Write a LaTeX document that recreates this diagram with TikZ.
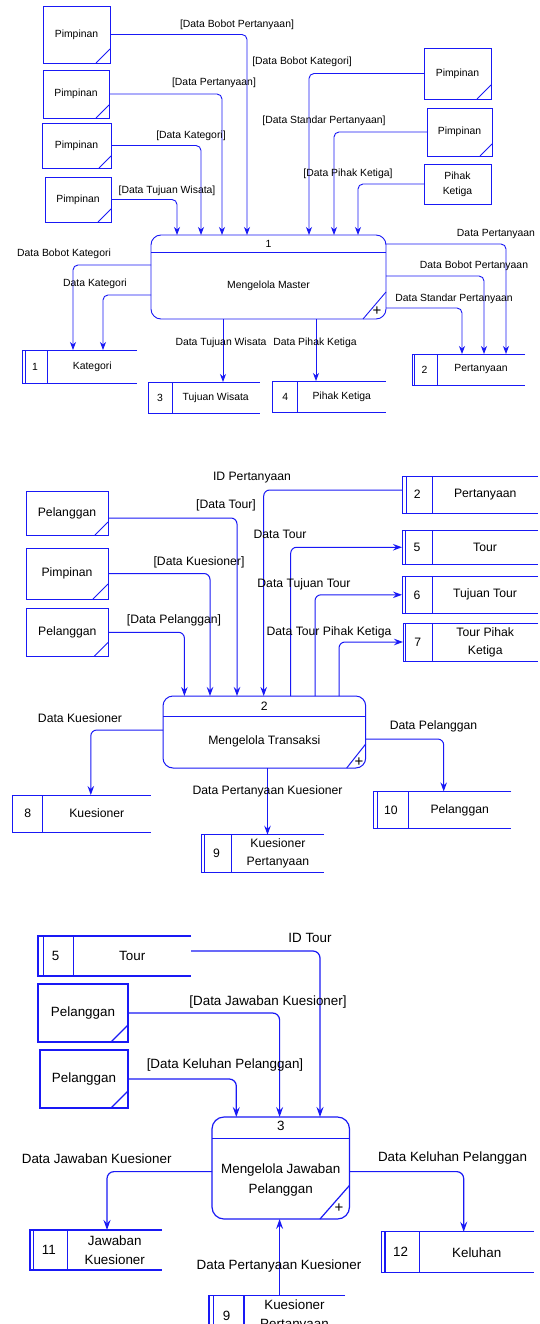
\documentclass[tikz,border=0pt]{standalone}
\usepackage{fontspec}
\setmainfont{Liberation Sans}
\usetikzlibrary{arrows.meta,calc,positioning}
\definecolor{dfdblue}{RGB}{25,25,245}

\tikzset{
  dfd/.style={draw=dfdblue, line width=0.9pt},
  flow/.style={dfd, rounded corners=5pt, -{Stealth[length=8pt,width=6pt,inset=2.5pt]}},
  entity/.style={dfd, rectangle, inner sep=0pt, outer sep=0pt, anchor=north west, align=center},
  procbox/.style={dfd, rectangle, rounded corners=10pt, inner sep=0pt, outer sep=0pt, anchor=north west},
  storebox/.style={rectangle, inner sep=0pt, outer sep=0pt, anchor=north west},
  lbl/.style={inner sep=0pt},
  plus/.style={inner sep=0pt, font=\fontsize{15}{15}\selectfont},
}

% external entity: name, x, y, width, height, corner, text
\newcommand{\dfdentity}[7]{%
  \node[entity, minimum width=#4pt, minimum height=#5pt] (#1) at (#2,#3) {#7};
  \draw[dfd] ($(#1.south east)+(-#6,0)$) -- ($(#1.south east)+(0,-#6)$);
}
% data store: name, x, y, width, height, number cell, inner line, number, text
\newcommand{\dfdstore}[9]{%
  \node[storebox, minimum width=#4pt, minimum height=#5pt] (#1) at (#2,#3) {};
  \draw[dfd] (#1.north east) -- (#1.north west) -- (#1.south west) -- (#1.south east);
  \ifdim #7pt>0pt \draw[dfd] ($(#1.north west)+(#7,0)$) -- ($(#1.south west)+(#7,0)$);\fi
  \draw[dfd] ($(#1.north west)+(#6,0)$) -- ($(#1.south west)+(#6,0)$);
  \node[lbl] (#1-n) at ($(#1.west)+({#6/2},0)$) {#8};
  \node[lbl, align=center] (#1-t) at ($(#1.west)+({(#4+#6)/2},0)$) {#9};
}

\begin{document}
\begin{tikzpicture}[x=1pt, y=-1pt]
\path[use as bounding box] (0,0) rectangle (540,1324);
\clip (0,0) rectangle (540,1324);
\fill[white] (0,0) rectangle (540,1324);

% level 1: Mengelola Master
\begin{scope}[font=\fontsize{10.4}{15}\selectfont]
\dfdentity{pim1}{43}{6}{67}{57}{14}{Pimpinan}
\dfdentity{pim2}{43}{70}{66}{48}{13}{Pimpinan}
\dfdentity{pim3}{42}{123}{69}{45}{12}{Pimpinan}
\dfdentity{pim4}{45}{177}{66}{45}{13}{Pimpinan}
\dfdentity{pim5}{424}{48}{67}{51}{14}{Pimpinan}
\dfdentity{pim6}{427}{108}{65}{48}{12}{Pimpinan}
\node[entity, minimum width=67pt, minimum height=40pt] (pk1) at (424,164) {Pihak\\Ketiga};

\node[procbox, minimum width=235pt, minimum height=84pt] (p1) at (151,235) {};
\draw[dfd] ($(p1.north west)+(0,17)$) -- ($(p1.north east)+(0,17)$);
\node[lbl] (p1-n) at ($(p1.north)+(0,8.5)$) {1};
\node[lbl] (p1-t) at ($(p1.north)+(0,50.5)$) {Mengelola Master};
\draw[dfd] ($(p1.south east)+(-23,0)$) -- ($(p1.south east)+(0,-27)$);
\node[plus] (p1-p) at ($(p1.south east)+(-9,-8)$) {+};

\dfdstore{ds1}{22.5}{350}{114.5}{33}{25}{3}{1}{Kategori}
\dfdstore{ds3}{148}{382}{111.5}{31}{24}{0}{3}{Tujuan Wisata}
\dfdstore{ds4}{272.7}{381}{113}{31}{25}{0}{4}{Pihak Ketiga}
\dfdstore{ds2}{412}{354}{113}{31}{25}{2.5}{2}{Pertanyaan}

\draw[flow] (pim1.east) -| ($(p1.north west)+(96,0)$);
\draw[flow] (pim2.east) -| ($(p1.north west)+(71,0)$);
\draw[flow] (pim3.east) -| ($(p1.north west)+(50,0)$);
\draw[flow] (pim4.east) -| ($(p1.north west)+(26,0)$);
\draw[flow] (pim5.west) -| ($(p1.north west)+(158,0)$);
\draw[flow] (pim6.west) -| ($(p1.north west)+(183,0)$);
\draw[flow] (pk1.west) -| ($(p1.north west)+(207,0)$);
\draw[flow] ($(p1.north west)+(0,30)$) -| ($(ds1.north west)+(50.5,0)$);
\draw[flow] ($(p1.north west)+(0,60)$) -| ($(ds1.north west)+(80.5,0)$);
\coordinate (o1) at ($(p1.south west)+(72,0)$);
\draw[flow] (o1) -- (o1 |- ds3.north);
\coordinate (o2) at ($(p1.south west)+(165,0)$);
\draw[flow] (o2) -- (o2 |- ds4.north);
\draw[flow] ($(p1.north east)+(0,9)$) -| ($(ds2.north west)+(94,0)$);
\draw[flow] ($(p1.north east)+(0,41)$) -| ($(ds2.north west)+(72,0)$);
\draw[flow] ($(p1.north east)+(0,73)$) -| ($(ds2.north west)+(50,0)$);

\node[lbl] (f1) at (237,25) {[Data Bobot Pertanyaan]};
\node[lbl] (f2) at (214,83) {[Data Pertanyaan]};
\node[lbl] (f3) at (191,136) {[Data Kategori]};
\node[lbl] (f4) at (167,191) {[Data Tujuan Wisata]};
\node[lbl] (f5) at (302,62) {[Data Bobot Kategori]};
\node[lbl] (f6) at (324,121) {[Data Standar Pertanyaan]};
\node[lbl] (f7) at (348,174) {[Data Pihak Ketiga]};
\node[lbl] (f8) at (64,254) {Data Bobot Kategori};
\node[lbl] (f9) at (95,284) {Data Kategori};
\node[lbl] (f10) at (221,343) {Data Tujuan Wisata};
\node[lbl] (f11) at (315,343) {Data Pihak Ketiga};
\node[lbl] (f12) at (496,234) {Data Pertanyaan};
\node[lbl] (f13) at (474,266) {Data Bobot Pertanyaan};
\node[lbl] (f14) at (454,299) {Data Standar Pertanyaan};
\end{scope}

% level 2: Mengelola Transaksi
\begin{scope}[font=\fontsize{12.2}{17.7}\selectfont,
  dfd/.style={draw=dfdblue, line width=1pt},
  flow/.style={dfd, rounded corners=6pt, -{Stealth[length=9pt,width=6.5pt,inset=3pt]}}]
\dfdentity{pel1}{26}{491}{82}{44}{13}{Pelanggan}
\dfdentity{pim7}{26}{548}{82}{51}{15}{Pimpinan}
\dfdentity{pel2}{26.6}{608}{81.4}{48.5}{14}{Pelanggan}

\dfdstore{ds2b}{402}{476}{136}{37}{30.5}{4.6}{2}{Pertanyaan}
\dfdstore{ds5}{402}{530}{136}{34.5}{30}{3}{5}{Tour}
\dfdstore{ds6}{402}{576.6}{136}{36.4}{30}{3}{6}{Tujuan Tour}
\dfdstore{ds7}{403}{623}{135}{38}{29.5}{2.5}{7}{Tour Pihak\\Ketiga}
\dfdstore{ds8}{12.8}{795}{138}{37}{30}{0}{8}{Kuesioner}
\dfdstore{ds9}{201.4}{834.7}{122.6}{37.3}{30.4}{2.6}{9}{Kuesioner\\Pertanyaan}
\dfdstore{ds10}{373.7}{791.4}{137.7}{37.4}{34.3}{3.3}{10}{Pelanggan}

\node[procbox, minimum width=202.7pt, minimum height=72pt] (p2) at (163,696) {};
\draw[dfd] ($(p2.north west)+(0,20)$) -- ($(p2.north east)+(0,20)$);
\node[lbl] (p2-n) at ($(p2.north)+(0,10)$) {2};
\node[lbl] (p2-t) at ($(p2.north)+(0,45.6)$) {Mengelola Transaksi};
\draw[dfd] ($(p2.south east)+(-19,0)$) -- ($(p2.south east)+(0,-24)$);
\node[plus] (p2-p) at ($(p2.south east)+(-6.7,-6)$) {+};

\draw[flow] ($(pel1.east)+(0,5)$) -| ($(p2.north west)+(74,0)$);
\draw[flow] (pim7.east) -| ($(p2.north west)+(47,0)$);
\draw[flow] (pel2.east) -| ($(p2.north west)+(21.4,0)$);
\draw[flow] ($(ds2b.west)+(0,-4.5)$) -| ($(p2.north west)+(100.7,0)$);
\coordinate (u1) at ($(p2.north west)+(127.7,0)$);
\draw[flow] (u1) |- (ds5.west);
\coordinate (u2) at ($(p2.north west)+(152,0)$);
\draw[flow] (u2) |- (ds6.west);
\coordinate (u3) at ($(p2.north west)+(176,0)$);
\draw[flow] (u3) |- (ds7.west);
\draw[flow] ($(p2.north west)+(0,34)$) -| ($(ds8.north west)+(78,0)$);
\draw[flow] ($(p2.north east)+(0,43)$) -| ($(ds10.north west)+(70,0)$);
\coordinate (u4) at ($(p2.south west)+(104.5,0)$);
\draw[flow] (u4) -- (u4 |- ds9.north);

\node[lbl] (g1) at (252,478) {ID Pertanyaan};
\node[lbl] (g2) at (226,505.7) {[Data Tour]};
\node[lbl] (g3) at (199,562) {[Data Kuesioner]};
\node[lbl] (g4) at (174,620) {[Data Pelanggan]};
\node[lbl] (g5) at (280,534) {Data Tour};
\node[lbl] (g6) at (304,584.6) {Data Tujuan Tour};
\node[lbl] (g7) at (329,632) {Data Tour Pihak Ketiga};
\node[lbl] (g8) at (80,718) {Data Kuesioner};
\node[lbl] (g9) at (433.5,726) {Data Pelanggan};
\node[lbl] (g10) at (267.5,791.4) {Data Pertanyaan Kuesioner};
\end{scope}

% level 3: Mengelola Jawaban Pelanggan
\begin{scope}[font=\fontsize{13.4}{19.2}\selectfont,
  dfd/.style={draw=dfdblue, line width=1.2pt},
  flow/.style={dfd, rounded corners=7pt, -{Stealth[length=10pt,width=7pt,inset=3.5pt]}}]
\dfdstore{ds5b}{38}{936}{153}{40}{35.4}{5.6}{5}{Tour}
\dfdentity{pel3}{38}{984}{90}{58}{17}{Pelanggan}
\dfdentity{pel4}{40}{1050}{88}{58}{17}{Pelanggan}

\node[procbox, rounded corners=12pt, minimum width=137.5pt, minimum height=102pt] (p3) at (212,1117) {};
\draw[dfd] ($(p3.north west)+(0,21.4)$) -- ($(p3.north east)+(0,21.4)$);
\node[lbl] (p3-n) at ($(p3.north)+(0,9)$) {3};
\node[lbl, align=center] (p3-t) at ($(p3.north)+(0,63)$) {Mengelola Jawaban\\Pelanggan};
\draw[dfd] ($(p3.south east)+(-29.5,0)$) -- ($(p3.south east)+(0,-33.6)$);
\node[plus] (p3-p) at ($(p3.south east)+(-10.5,-10.4)$) {+};

\dfdstore{ds11}{30}{1230}{132}{40}{37.5}{3.6}{11}{Jawaban\\Kuesioner}
\dfdstore{ds12}{381.7}{1231.8}{152.3}{40.8}{37.7}{3.3}{12}{Keluhan}
\dfdstore{ds9b}{209}{1295.8}{136}{40}{35}{4.5}{9}{Kuesioner\\Pertanyaan}

\draw[flow] ($(ds5b.east)+(0,-5)$) -| ($(p3.north west)+(108,0)$);
\draw[flow] (pel3.east) -| ($(p3.north west)+(67.6,0)$);
\draw[flow] (pel4.east) -| ($(p3.north west)+(24.3,0)$);
\draw[flow] ($(p3.north west)+(0,54.6)$) -| ($(ds11.north west)+(77,0)$);
\draw[flow] ($(p3.north east)+(0,54.6)$) -| ($(ds12.north west)+(82,0)$);
\coordinate (v1) at ($(ds9b.north west)+(70.6,0)$);
\draw[flow] (v1) -- (v1 |- p3.south);

\node[lbl] (h1) at (310,938) {ID Tour};
\node[lbl] (h2) at (268,1002) {[Data Jawaban Kuesioner]};
\node[lbl] (h3) at (225,1065) {[Data Keluhan Pelanggan]};
\node[lbl] (h4) at (96.7,1158.4) {Data Jawaban Kuesioner};
\node[lbl] (h5) at (452.5,1158.4) {Data Keluhan Pelanggan};
\node[lbl] (h6) at (279,1266.4) {Data Pertanyaan Kuesioner};
\end{scope}
\end{tikzpicture}
\end{document}
